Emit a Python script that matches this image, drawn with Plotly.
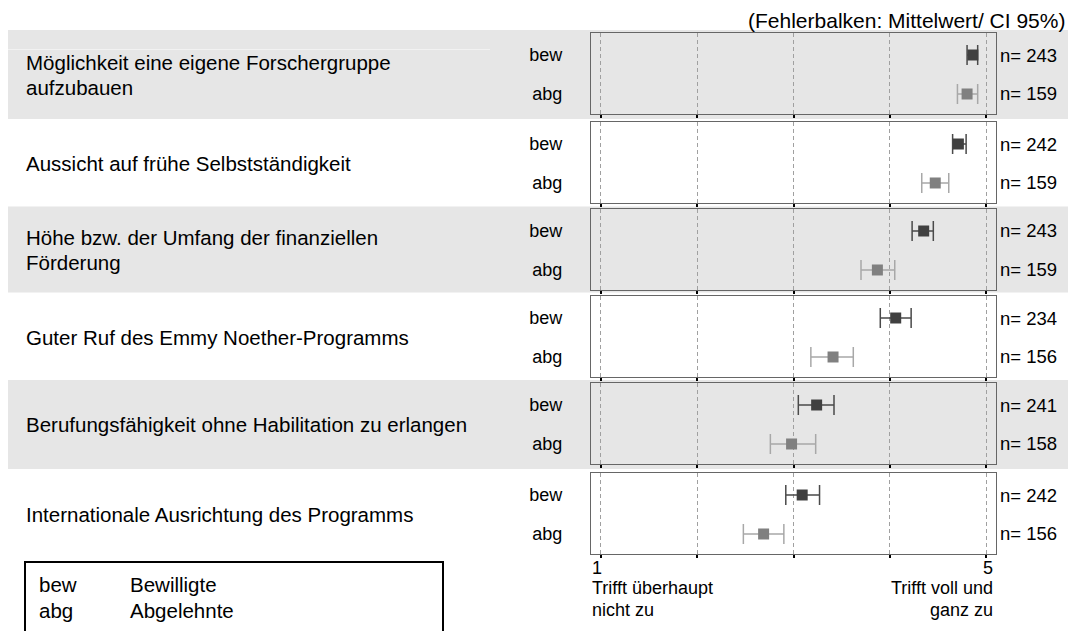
import plotly.graph_objects as go

# ---------------- data ----------------
items = [
    ["Möglichkeit eine eigene Forschergruppe", "aufzubauen"],
    ["Aussicht auf frühe Selbstständigkeit"],
    ["Höhe bzw. der Umfang der finanziellen", "Förderung"],
    ["Guter Ruf des Emmy Noether-Programms"],
    ["Berufungsfähigkeit ohne Habilitation zu erlangen"],
    ["Internationale Ausrichtung des Programms"],
]
groups = ["bew", "abg"]
group_names = ["Bewilligte", "Abgelehnte"]

bew_mean = [4.86, 4.71, 4.35, 4.06, 3.24, 3.09]
bew_lo = [4.80, 4.65, 4.23, 3.90, 3.05, 2.92]
bew_hi = [4.91, 4.79, 4.45, 4.22, 3.42, 3.27]
bew_n = [243, 242, 243, 234, 241, 242]

abg_mean = [4.80, 4.47, 3.87, 3.41, 2.98, 2.69]
abg_lo = [4.70, 4.33, 3.70, 3.18, 2.76, 2.48]
abg_hi = [4.91, 4.61, 4.05, 3.62, 3.23, 2.90]
abg_n = [159, 159, 159, 156, 158, 156]

tick_vals = [1, 2, 3, 4, 5]
scale_low = ["1", "Trifft überhaupt", "nicht zu"]
scale_high = ["5", "Trifft voll und", "ganz zu"]
note = "(Fehlerbalken: Mittelwert/ CI 95%)"

# ---------------- styling / layout ----------------
OFF = 8                      # page body margin
W, H = 1076 - OFF, 631 - OFF
FONT = "Liberation Sans, Arial, sans-serif"
BAND = "#e6e6e6"
BAND_EDGE = "#eeeeee"
box_top = [33, 122, 209, 296, 383, 473]
box_h = 81
band_rows = [(30, 119), (206.5, 292.5), (380, 469)]
x_left, x_right = 591, 996

colors = {"bew": ("#404040", "#4a4a4a"), "abg": ("#808080", "#a8a8a8")}
data = {
    "bew": (bew_mean, bew_lo, bew_hi, bew_n),
    "abg": (abg_mean, abg_lo, abg_hi, abg_n),
}


def px(x):
    return (x - OFF) / W


def py(y):
    return 1 - (y - OFF) / H


fig = go.Figure()
shapes = []
annotations = []

# background bands
for (t, b) in band_rows:
    shapes.append(dict(type="rect", xref="paper", yref="paper", layer="below",
                       x0=px(8), x1=px(1068), y0=py(b), y1=py(t),
                       fillcolor=BAND, line=dict(width=0)))
    shapes.append(dict(type="rect", xref="paper", yref="paper", layer="below",
                       x0=px(1068), x1=1, y0=py(b), y1=py(t),
                       fillcolor=BAND_EDGE, line=dict(width=0)))
# faint light line in first band
shapes.append(dict(type="line", xref="paper", yref="paper", layer="below",
                   x0=px(8), x1=px(490), y0=py(49.5), y1=py(49.5),
                   line=dict(color="#f2f2f2", width=1)))

for i in range(len(items)):
    sfx = "" if i == 0 else str(i + 1)
    xa, ya = "x" + sfx, "y" + sfx
    for g in groups:
        mean, lo, hi, n = data[g]
        mcol, ecol = colors[g]
        fig.add_trace(go.Scatter(
            x=[mean[i]], y=[g], xaxis=xa, yaxis=ya, mode="markers",
            marker=dict(symbol="square", size=11, color=mcol, line=dict(width=0)),
            error_x=dict(type="data", symmetric=False,
                         array=[hi[i] - mean[i]], arrayminus=[mean[i] - lo[i]],
                         color=ecol, thickness=1.5, width=10),
            showlegend=False, hoverinfo="skip"))
        annotations.append(dict(xref="paper", yref=ya, x=px(998), y=g,
                                xanchor="left", yanchor="middle", showarrow=False,
                                text=f"n= {n[i]}",
                                font=dict(size=18.5, color="black", family=FONT)))
    top = box_top[i]
    fig.update_layout(**{
        "xaxis" + sfx: dict(domain=[px(x_left), px(x_right)], range=[0.9, 5.1],
                            anchor=ya, tickvals=tick_vals, showticklabels=False,
                            ticks="outside", ticklen=3, tickwidth=2, tickcolor="black",
                            showgrid=True, gridcolor="#a0a0a0", gridwidth=1,
                            griddash="4px,3px", zeroline=False,
                            showline=True, mirror=True, linecolor="#666666", linewidth=1.2),
        "yaxis" + sfx: dict(domain=[py(top + box_h), py(top)], anchor=xa,
                            type="category", categoryarray=groups,
                            range=[1.513, -0.564], showgrid=False, zeroline=False,
                            ticks="", ticklabelstandoff=24,
                            tickfont=dict(size=18, color="black", family=FONT),
                            showline=True, mirror=True, linecolor="#666666", linewidth=1.2),
    })
    # item label
    lines = items[i]
    cy = top + box_h / 2 + 1
    for k, line in enumerate(lines):
        yy = cy + (k - (len(lines) - 1) / 2) * 25
        annotations.append(dict(xref="paper", yref="paper", x=px(24), y=py(yy),
                                xanchor="left", yanchor="middle", showarrow=False,
                                text=line, font=dict(size=20.5, color="black", family=FONT)))

# scale labels under last panel
last_x = "x" + str(len(items))
for k, (lt, rt) in enumerate(zip(scale_low, scale_high)):
    yy = 568 + (0 if k == 0 else 20 + (k - 1) * 22)
    annotations.append(dict(xref=last_x, yref="paper", x=tick_vals[0], y=py(yy),
                            xanchor="left", yanchor="middle", showarrow=False, xshift=-11,
                            text=lt, font=dict(size=18, color="black", family=FONT)))
    annotations.append(dict(xref=last_x, yref="paper", x=tick_vals[-1], y=py(yy),
                            xanchor="right", yanchor="middle", showarrow=False, xshift=9,
                            text=rt, font=dict(size=18, color="black", family=FONT)))

# note at top right
annotations.append(dict(xref="paper", yref="paper", x=px(1066), y=py(20.5),
                        xanchor="right", yanchor="middle", showarrow=False, borderpad=0,
                        text=note, font=dict(size=21, color="black", family=FONT)))

# legend box
shapes.append(dict(type="rect", xref="paper", yref="paper",
                   x0=px(25), x1=px(443), y0=py(660), y1=py(562),
                   line=dict(color="black", width=2), fillcolor="rgba(0,0,0,0)"))
for k, (g, name) in enumerate(zip(groups, group_names)):
    yy = 584 + k * 26
    annotations.append(dict(xref="paper", yref="paper", x=px(37), y=py(yy),
                            xanchor="left", yanchor="middle", showarrow=False,
                            text=g, font=dict(size=20.5, color="black", family=FONT)))
    annotations.append(dict(xref="paper", yref="paper", x=px(128), y=py(yy),
                            xanchor="left", yanchor="middle", showarrow=False,
                            text=name, font=dict(size=20.5, color="black", family=FONT)))

fig.update_layout(width=W, height=H, margin=dict(l=0, r=0, t=0, b=0),
                  paper_bgcolor="white", plot_bgcolor="rgba(0,0,0,0)",
                  shapes=shapes, annotations=annotations, showlegend=False,
                  font=dict(family=FONT, color="black"))

fig.write_html("out.html")
